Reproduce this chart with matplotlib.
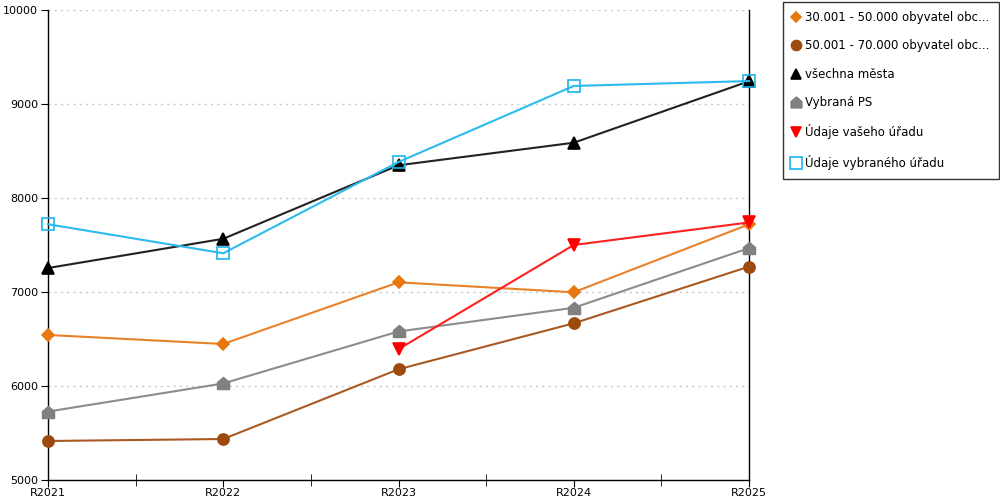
import matplotlib
matplotlib.use("Agg")
import matplotlib.pyplot as plt
from matplotlib.lines import Line2D
from matplotlib.path import Path
import numpy as np

categories = ["R2021", "R2022", "R2023", "R2024", "R2025"]
s_30_50 = [6543, 6447, 7103, 6997, 7720]
s_50_70 = [5415, 5436, 6178, 6667, 7270]
s_mesta = [7255, 7566, 8348, 8588, 9242]
s_ps = [5728, 6027, 6580, 6832, 7467]
s_vas = [None, None, 6392, 7500, 7740]
s_vybr = [7721, 7412, 8383, 9192, 9244]

labels = ["30.001 - 50.000 obyvatel obc...", "50.001 - 70.000 obyvatel obc...",
          "všechna města", "Vybraná PS", "Údaje vašeho úřadu", "Údaje vybraného úřadu"]

house = Path([(-1, -1), (1, -1), (1, 0.15), (0, 1), (-1, 0.15), (-1, -1)],
             [Path.MOVETO, Path.LINETO, Path.LINETO, Path.LINETO, Path.LINETO, Path.CLOSEPOLY])

styles = [
    dict(marker="D", ms=6, mfc="#E8770F", mec="#E8770F"),
    dict(marker="o", ms=8, mfc="#9C4A0E", mec="#9C4A0E"),
    dict(marker="^", ms=8, mfc="#000000", mec="#000000"),
    dict(marker=house, ms=8.5, mfc="#808080", mec="#808080"),
    dict(marker="v", ms=8.5, mfc="#FF0000", mec="#FF0000"),
    dict(marker="s", ms=9, mfc="none", mec="#1BB5EC"),
]
series = [s_30_50, s_50_70, s_mesta, s_ps, s_vas, s_vybr]
line_colors = ["#E8822A", "#A85A22", "#222222", "#8C8C8C", "#FF2020", "#2BBBEE"]

plt.rcParams['font.family'] = ['DejaVu Sans']
fig = plt.figure(figsize=(10, 5), dpi=100)
ax = fig.add_axes([0.048, 0.04, 0.701, 0.94])

x = np.arange(len(categories))
for data, st, lc in zip(series, styles, line_colors):
    y = np.array([np.nan if v is None else v for v in data], dtype=float)
    ax.plot(x, y, color=lc, lw=1.5, marker=st["marker"], ms=st["ms"],
            mfc=st["mfc"], mec=st["mec"], mew=1.2, zorder=3, clip_on=False)

ax.set_xlim(0, len(categories) - 1)
ax.set_ylim(5000, 10000)
ax.set_yticks(np.arange(5000, 10001, 1000))
ax.set_xticks(x)
ax.set_xticklabels(categories)
ax.set_xticks(x[:-1] + 0.5, minor=True)
ax.tick_params(axis='x', which='major', direction='out', length=5, labelsize=8, pad=0.5)
ax.tick_params(axis='x', which='minor', direction='inout', length=8)
ax.tick_params(axis='y', which='major', direction='out', length=5, labelsize=8, pad=2)
ax.yaxis.grid(True, linestyle=(0, (1.5, 3)), color="#C8C8C8", lw=1)
ax.set_axisbelow(True)
ax.spines["top"].set_visible(False)
for s in ["left", "bottom", "right"]:
    ax.spines[s].set_color("black")
    ax.spines[s].set_linewidth(1)

handles = [Line2D([], [], linestyle="none", marker=st["marker"], ms=st["ms"] * 0.9,
                  mfc=st["mfc"], mec=st["mec"], mew=1.2) for st in styles]
leg = fig.legend(handles, labels, loc="upper left", bbox_to_anchor=(0.783, 0.997),
                 frameon=True, fancybox=False, edgecolor="black", fontsize=8.5,
                 handlelength=0.55, handletextpad=0.5, labelspacing=1.3,
                 borderpad=0.8, borderaxespad=0)
leg.get_frame().set_linewidth(1)

fig.savefig("out.png", dpi=100)
